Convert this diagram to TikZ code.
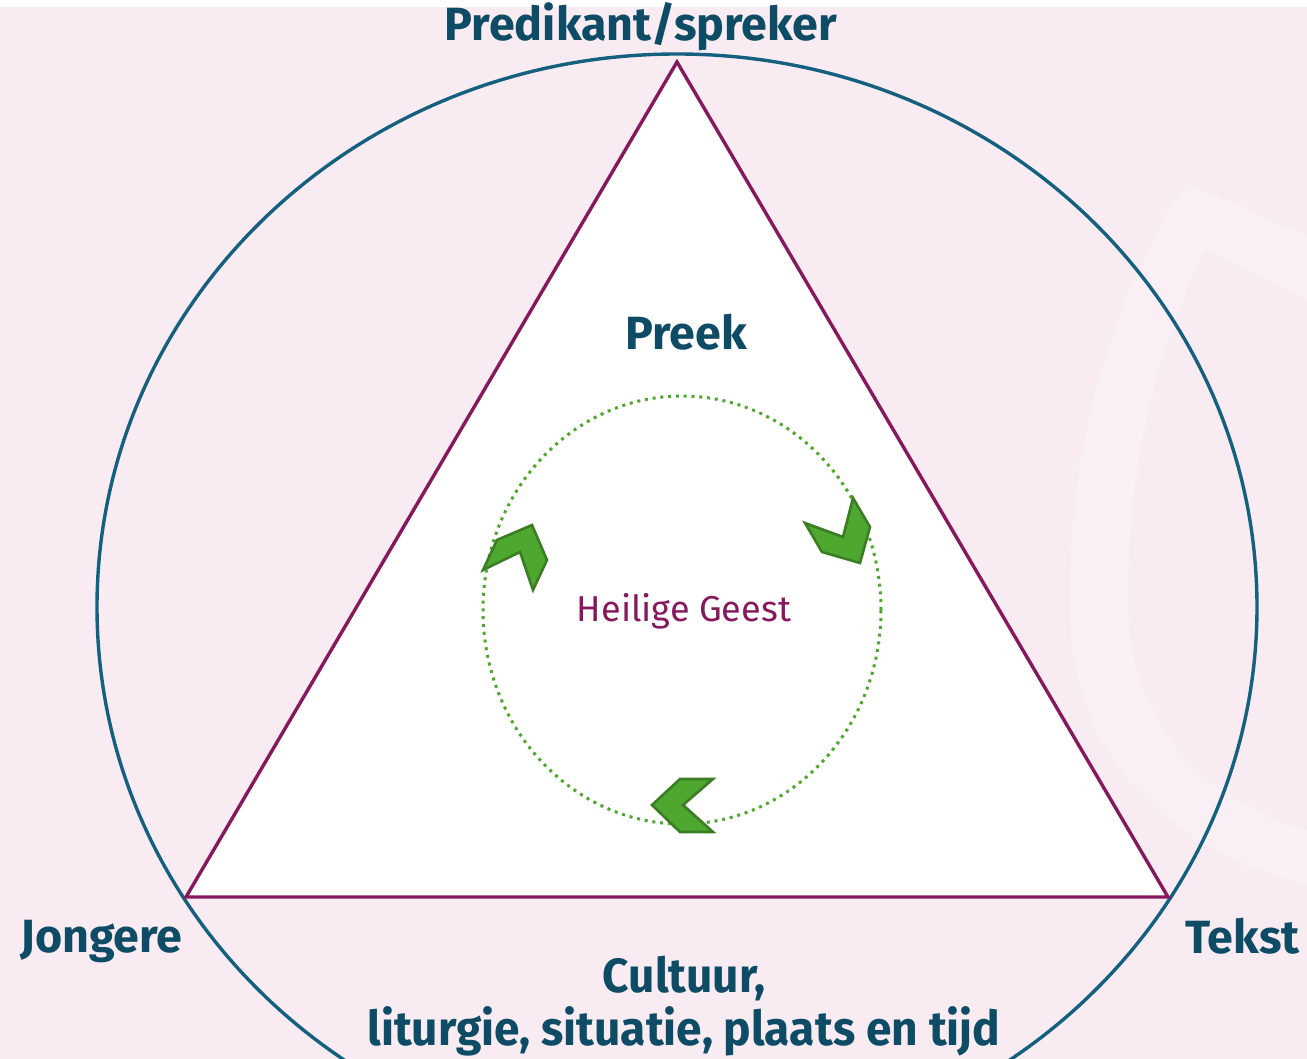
\documentclass[tikz,border=0pt]{standalone}
\usepackage{fontspec}
\setmainfont{Fira Sans}
\newfontfamily\narrowfont[FakeStretch=0.96]{Fira Sans}
\usetikzlibrary{calc}
\definecolor{bgpink}{RGB}{248,235,242}
\definecolor{bglight}{RGB}{250,239,245}
\definecolor{txtblue}{RGB}{14,76,102}
\definecolor{ringblue}{RGB}{21,96,127}
\definecolor{tripurple}{RGB}{134,24,94}
\definecolor{chevfill}{RGB}{78,167,46}
\definecolor{chevline}{RGB}{59,125,35}
\definecolor{dotgreen}{RGB}{78,167,46}
\tikzset{
  lbl/.style={font=\bfseries\fontsize{23.3}{26}\selectfont, text=txtblue, inner sep=0pt},
  narrowlbl/.style={font=\narrowfont\bfseries\fontsize{24}{27}\selectfont, text=txtblue, inner sep=0pt},
  spirit/.style={font=\fontsize{18}{21}\selectfont, text=tripurple, inner sep=0pt},
  chev/.style={fill=chevfill, draw=chevline, line width=1.3pt, line join=miter},
  ring/.style={draw=ringblue, line width=1.7pt},
  tri/.style={draw=tripurple, line width=1.7pt, fill=white, line join=miter},
  dotring/.style={draw=dotgreen, line width=1.5pt, dash pattern=on 1.5pt off 2.4pt}
}
\begin{document}
\begin{tikzpicture}[x=0.5pt,y=-0.5pt]
\useasboundingbox (0,0) rectangle (1307,1059);
% background
\fill[white] (0,0) rectangle (1307,1059);
\fill[bgpink] (0,7) rectangle (1307,1059);
% faint decorative band
\fill[bglight] (1307,236) -- (1186,183) .. controls (1110,300) and (1066,450) .. (1070,620)
  .. controls (1075,760) and (1170,850) .. (1307,885) -- (1307,830)
  .. controls (1200,800) and (1128,720) .. (1128,600)
  .. controls (1128,460) and (1160,340) .. (1205,250) -- (1307,300) -- cycle;
% vertices
\coordinate (top) at (677,62);
\coordinate (left) at (186,897);
\coordinate (right) at (1168,897);
\coordinate (ctr) at (677,607);
% outer ellipse
\draw[ring] (ctr) ellipse [x radius=290pt, y radius=276.5pt];
% triangle
\draw[tri] (top) -- (left) -- (right) -- cycle;
% dotted circle
\coordinate (sc) at (682,610);
\draw[dotring] (sc) ellipse [x radius=99.5pt, y radius=107pt];
% chevrons
\path[chev] (497,540) -- (532,525) -- (547,560) -- (533,590) -- (520,552) -- (483,570) -- cycle;
\path[chev] (805,523) -- (843,537) -- (853,498) -- (870,527) -- (860,563) -- (822,552) -- cycle;
\path[chev] (652,805) -- (680,779) -- (713,779) -- (683,805) -- (713,832) -- (680,832) -- cycle;
% labels
\node[lbl, anchor=base] (pred) at (641,41) {Predikant/spreker};
\node[lbl, anchor=base] (preek) at (686,350) {Preek};
\node[spirit, anchor=base] (hg) at (684,621) {Heilige Geest};
\node[lbl, anchor=base west] (jong) at (20,952) {Jongere};
\node[lbl, anchor=base east] (tekst) at (1300,953) {Tekst};
\node[narrowlbl, anchor=base] (cult) at (684,992) {Cultuur,};
\node[narrowlbl, anchor=base] (lit) at (684,1045) {liturgie, situatie, plaats en tijd};
\end{tikzpicture}
\end{document}
